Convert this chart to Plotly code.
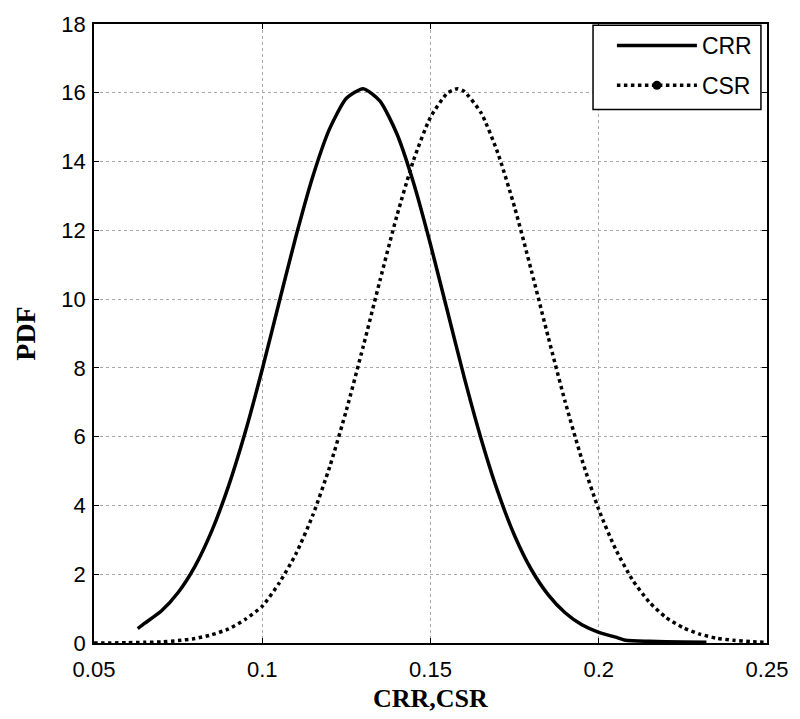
import plotly.graph_objects as go

# CRR curve
crr_x = [0.063, 0.065, 0.070, 0.075, 0.080, 0.085, 0.090, 0.095, 0.100, 0.105,
         0.110, 0.115, 0.120, 0.125, 0.130, 0.135, 0.140, 0.145, 0.150, 0.155,
         0.160, 0.165, 0.170, 0.175, 0.180, 0.185, 0.190, 0.195, 0.200, 0.205,
         0.208, 0.215, 0.225, 0.232]
crr_y = [0.42, 0.57, 0.93, 1.47, 2.23, 3.26, 4.57, 6.15, 7.96, 9.90,
         11.82, 13.56, 14.95, 15.84, 16.12, 15.76, 14.81, 13.37, 11.59, 9.66,
         7.73, 5.95, 4.40, 3.12, 2.13, 1.40, 0.88, 0.53, 0.31, 0.17,
         0.08, 0.05, 0.03, 0.02]

# CSR curve
csr_x = [0.050, 0.055, 0.060, 0.065, 0.070, 0.075, 0.080, 0.085, 0.090, 0.095,
         0.100, 0.105, 0.110, 0.115, 0.120, 0.125, 0.130, 0.135, 0.140, 0.145,
         0.150, 0.155, 0.158, 0.160, 0.165, 0.170, 0.175, 0.180, 0.185, 0.190,
         0.195, 0.200, 0.205, 0.210, 0.215, 0.220, 0.225, 0.230, 0.235, 0.240,
         0.245, 0.250]
csr_y = [0.00, 0.00, 0.01, 0.02, 0.03, 0.07, 0.13, 0.24, 0.41, 0.69,
         1.07, 1.74, 2.59, 3.71, 5.11, 6.77, 8.62, 10.55, 12.42, 14.05,
         15.29, 15.99, 16.12, 16.04, 15.42, 14.25, 12.67, 10.82, 8.89, 7.02,
         5.33, 3.88, 2.73, 1.84, 1.19, 0.74, 0.45, 0.26, 0.14, 0.08,
         0.04, 0.02]

x_ticks = [0.05, 0.1, 0.15, 0.2, 0.25]
x_tick_labels = ["0.05", "0.1", "0.15", "0.2", "0.25"]
y_ticks = [0, 2, 4, 6, 8, 10, 12, 14, 16, 18]

fig = go.Figure()
fig.add_trace(go.Scatter(x=crr_x, y=crr_y, mode="lines", name="CRR",
                         line=dict(color="black", width=3.5, shape="spline",
                                   smoothing=0.6),
                         legendgroup="a"))
fig.add_trace(go.Scatter(x=csr_x, y=csr_y, mode="lines", name="CSR",
                         line=dict(color="black", width=3.5, dash="dot",
                                   shape="spline", smoothing=0.6),
                         showlegend=False))
# legend entry for CSR (line with point marker)
fig.add_trace(go.Scatter(x=[None], y=[None], mode="lines+markers", name="CSR",
                         line=dict(color="black", width=3.5, dash="dot"),
                         marker=dict(color="black", size=9),
                         legendgroup="b"))

axis_common = dict(
    showline=True, linecolor="black", linewidth=1.5, mirror="ticks",
    ticks="inside", ticklen=5, tickcolor="black", tickwidth=1,
    showgrid=True, gridcolor="#a8a8a8", gridwidth=1, griddash="dot",
    zeroline=False,
    tickfont=dict(family="Liberation Sans, Arial", size=22, color="black"),
)

fig.update_xaxes(range=[0.05, 0.25], tickvals=x_ticks, ticktext=x_tick_labels,
                 ticklabelstandoff=6, **axis_common)
fig.update_yaxes(range=[0, 18], tickvals=y_ticks, ticklabelstandoff=2,
                 title=dict(text="<b>PDF</b>", standoff=18,
                            font=dict(family="Liberation Serif, Times New Roman",
                                      size=28, color="black")),
                 **axis_common)

# x-axis title
fig.add_annotation(text="<b>CRR,CSR</b>", xref="paper", yref="paper",
                   x=0.5, y=-0.09, xanchor="center", yanchor="middle",
                   showarrow=False,
                   font=dict(family="Liberation Serif, Times New Roman",
                             size=26, color="black"))

# legend frame (drawn as a box in the plot area's corner)
fig.add_shape(type="rect", xref="paper", yref="paper",
              x0=0.7415, x1=0.991, y0=0.862, y1=0.998,
              line=dict(color="black", width=1.5), fillcolor="white",
              layer="above")

fig.update_layout(
    width=800, height=719,
    margin=dict(l=94, r=29, t=23, b=76),
    paper_bgcolor="white", plot_bgcolor="white",
    showlegend=True,
    legend=dict(x=0.985, y=1.0, xanchor="right", yanchor="top",
                bgcolor="rgba(0,0,0,0)", borderwidth=0,
                font=dict(family="Liberation Sans, Arial", size=23, color="black"),
                itemwidth=80, tracegroupgap=7, traceorder="grouped"),
)

fig.write_html("out.html")
